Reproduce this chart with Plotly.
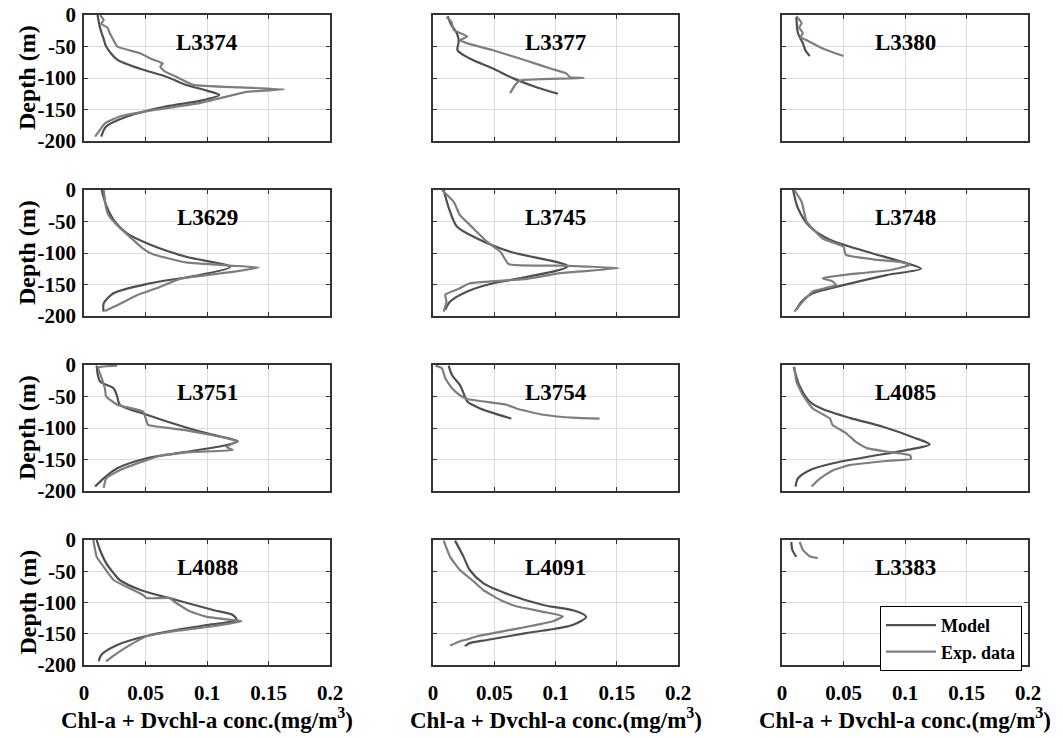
import plotly.graph_objects as go

# ---------------- data ----------------
stations = ["L3374", "L3377", "L3380", "L3629", "L3745", "L3748",
            "L3751", "L3754", "L4085", "L4088", "L4091", "L3383"]

L3374_model_conc = [0.011, 0.013, 0.016, 0.018, 0.027, 0.045, 0.067, 0.083, 0.100, 0.110, 0.095, 0.067, 0.035, 0.018, 0.014]
L3374_model_depth = [0, -20, -38, -50, -71, -85, -98, -111, -120, -127, -136, -145, -161, -177, -193]
L3374_exp_conc = [0.013, 0.016, 0.014, 0.019, 0.021, 0.024, 0.027, 0.046, 0.055, 0.064, 0.062, 0.066, 0.075, 0.089, 0.127, 0.163, 0.132, 0.111, 0.094, 0.056, 0.029, 0.017, 0.012, 0.009]
L3374_exp_depth = [0, -8, -14, -20, -29, -40, -50, -61, -70, -77, -82, -90, -98, -111, -115, -118, -122, -132, -140, -151, -161, -172, -185, -193]

L3377_model_conc = [0.012, 0.015, 0.0195, 0.021, 0.020, 0.030, 0.049, 0.066, 0.085, 0.102]
L3377_model_depth = [-2, -16, -29, -42, -56, -69, -85, -101, -115, -125]
L3377_exp_conc = [0.011, 0.015, 0.017, 0.028, 0.022, 0.028, 0.049, 0.074, 0.096, 0.109, 0.112, 0.123, 0.071, 0.067, 0.063]
L3377_exp_depth = [-3, -11, -24, -34, -40, -45, -56, -71, -85, -93, -99, -100, -104, -111, -124]

L3380_model_conc = [0.0117, 0.013, 0.017, 0.019, 0.0225]
L3380_model_depth = [-3, -29, -45, -56, -65]
L3380_exp_conc = [0.0117, 0.016, 0.014, 0.017, 0.015, 0.020, 0.033, 0.050]
L3380_exp_depth = [-2, -13, -20, -29, -35, -40, -53, -65]

L3629_model_conc = [0.0144, 0.018, 0.025, 0.035, 0.054, 0.083, 0.119, 0.094, 0.054, 0.024, 0.016, 0.016]
L3629_model_depth = [0, -24, -50, -69, -87, -106, -122, -135, -148, -164, -180, -193]
L3629_exp_conc = [0.016, 0.018, 0.020, 0.027, 0.037, 0.048, 0.056, 0.083, 0.119, 0.142, 0.121, 0.078, 0.059, 0.043, 0.027, 0.017]
L3629_exp_depth = [0, -29, -40, -56, -74, -93, -102, -115, -120, -123, -130, -141, -156, -167, -183, -192]

L3745_model_conc = [0.0087, 0.013, 0.0195, 0.036, 0.063, 0.110, 0.077, 0.049, 0.028, 0.014, 0.010]
L3745_model_depth = [0, -29, -58, -77, -98, -121, -138, -148, -161, -177, -190]
L3745_exp_conc = [0.0073, 0.017, 0.022, 0.033, 0.044, 0.055, 0.062, 0.104, 0.152, 0.104, 0.077, 0.030, 0.022, 0.010, 0.011, 0.0087]
L3745_exp_depth = [0, -19, -40, -61, -82, -98, -118, -120, -124, -132, -141, -148, -156, -166, -177, -193]

L3748_model_conc = [0.009, 0.013, 0.0225, 0.039, 0.069, 0.101, 0.113, 0.085, 0.050, 0.025, 0.016, 0.0117]
L3748_model_depth = [0, -29, -58, -79, -98, -116, -125, -135, -151, -164, -177, -190]
L3748_exp_conc = [0.010, 0.016, 0.020, 0.033, 0.050, 0.052, 0.074, 0.098, 0.104, 0.088, 0.050, 0.033, 0.041, 0.044, 0.025, 0.017, 0.010]
L3748_exp_depth = [0, -19, -50, -77, -90, -103, -110, -115, -119, -127, -135, -140, -145, -151, -161, -177, -193]

L3751_model_conc = [0.0103, 0.013, 0.024, 0.027, 0.029, 0.051, 0.081, 0.105, 0.125, 0.116, 0.083, 0.051, 0.027, 0.016, 0.009]
L3751_model_depth = [-1, -26, -37, -50, -63, -79, -98, -111, -121, -127, -138, -148, -164, -180, -193]
L3751_exp_conc = [0.027, 0.0117, 0.0144, 0.017, 0.018, 0.027, 0.048, 0.051, 0.052, 0.081, 0.116, 0.124, 0.116, 0.121, 0.089, 0.062, 0.048, 0.029, 0.018, 0.016]
L3751_exp_depth = [-1, -4, -21, -37, -50, -63, -74, -90, -95, -103, -116, -121, -130, -135, -138, -144, -153, -167, -180, -195]

L3754_model_conc = [0.0128, 0.0155, 0.022, 0.025, 0.028, 0.0385, 0.052, 0.064]
L3754_model_depth = [-1, -16, -32, -45, -58, -69, -78, -85]
L3754_exp_conc = [0.002, 0.0073, 0.010, 0.0155, 0.022, 0.028, 0.060, 0.068, 0.090, 0.117, 0.136]
L3754_exp_depth = [-1, -5, -21, -37, -48, -54, -63, -69, -79, -84, -85]

L4085_model_conc = [0.0095, 0.014, 0.0225, 0.033, 0.055, 0.082, 0.107, 0.120, 0.101, 0.069, 0.0415, 0.0225, 0.013, 0.011]
L4085_model_depth = [-3, -32, -58, -70, -84, -98, -115, -126, -135, -146, -156, -167, -180, -193]
L4085_exp_conc = [0.010, 0.0117, 0.017, 0.025, 0.039, 0.041, 0.052, 0.060, 0.069, 0.087, 0.104, 0.105, 0.087, 0.055, 0.0415, 0.031, 0.024]
L4085_exp_depth = [-3, -26, -48, -69, -85, -95, -108, -122, -132, -138, -143, -149, -152, -159, -167, -180, -193]

L4088_model_conc = [0.0103, 0.013, 0.018, 0.024, 0.029, 0.046, 0.075, 0.105, 0.121, 0.124, 0.100, 0.054, 0.027, 0.014, 0.012]
L4088_model_depth = [0, -16, -37, -53, -64, -80, -96, -112, -120, -128, -136, -152, -168, -184, -194]
L4088_exp_conc = [0.0076, 0.0103, 0.016, 0.024, 0.040, 0.048, 0.051, 0.070, 0.073, 0.086, 0.100, 0.121, 0.128, 0.105, 0.073, 0.051, 0.040, 0.027, 0.018]
L4088_exp_depth = [0, -27, -43, -64, -80, -88, -93, -93, -98, -114, -123, -128, -130, -138, -146, -154, -165, -181, -194]

L4091_model_conc = [0.018, 0.025, 0.030, 0.041, 0.063, 0.090, 0.117, 0.125, 0.114, 0.076, 0.044, 0.030, 0.026]
L4091_model_depth = [-1, -27, -48, -69, -88, -104, -114, -123, -136, -149, -160, -165, -170]
L4091_exp_conc = [0.0087, 0.014, 0.022, 0.033, 0.041, 0.055, 0.068, 0.093, 0.106, 0.098, 0.071, 0.036, 0.028, 0.022, 0.014]
L4091_exp_depth = [-1, -27, -48, -66, -80, -96, -106, -116, -122, -130, -141, -154, -159, -162, -169]

L3383_model_conc = [0.0076, 0.0084, 0.0117]
L3383_model_depth = [-3, -16, -27]
L3383_exp_conc = [0.0144, 0.017, 0.0225, 0.029]
L3383_exp_depth = [-3, -16, -26, -29]

x_tickvals = [0, 0.05, 0.1, 0.15, 0.2]
x_ticktext = ["0", "0.05", "0.1", "0.15", "0.2"]
y_tickvals = [0, -50, -100, -150, -200]
y_ticktext = ["0", "-50", "-100", "-150", "-200"]
x_title = "Chl-a + Dvchl-a conc.(mg/m<sup>3</sup>)"
y_title = "Depth (m)"

data = {
    "L3374": (L3374_model_conc, L3374_model_depth, L3374_exp_conc, L3374_exp_depth),
    "L3377": (L3377_model_conc, L3377_model_depth, L3377_exp_conc, L3377_exp_depth),
    "L3380": (L3380_model_conc, L3380_model_depth, L3380_exp_conc, L3380_exp_depth),
    "L3629": (L3629_model_conc, L3629_model_depth, L3629_exp_conc, L3629_exp_depth),
    "L3745": (L3745_model_conc, L3745_model_depth, L3745_exp_conc, L3745_exp_depth),
    "L3748": (L3748_model_conc, L3748_model_depth, L3748_exp_conc, L3748_exp_depth),
    "L3751": (L3751_model_conc, L3751_model_depth, L3751_exp_conc, L3751_exp_depth),
    "L3754": (L3754_model_conc, L3754_model_depth, L3754_exp_conc, L3754_exp_depth),
    "L4085": (L4085_model_conc, L4085_model_depth, L4085_exp_conc, L4085_exp_depth),
    "L4088": (L4088_model_conc, L4088_model_depth, L4088_exp_conc, L4088_exp_depth),
    "L4091": (L4091_model_conc, L4091_model_depth, L4091_exp_conc, L4091_exp_depth),
    "L3383": (L3383_model_conc, L3383_model_depth, L3383_exp_conc, L3383_exp_depth),
}

# ---------------- layout geometry ----------------
W, H = 1063, 738
col_px = [(84, 330), (433, 678), (782, 1028)]
row_px = [(15, 141), (190, 316), (365, 491), (540, 665)]

FONT = "Liberation Serif"
MODEL_COLOR = "#4f4f4f"
EXP_COLOR = "#7e7e7e"
FRAME = "#333333"
GRID = "#dcdcdc"

fig = go.Figure()
layout = dict(
    width=W, height=H,
    margin=dict(l=0, r=0, t=0, b=0, autoexpand=False),
    paper_bgcolor="white", plot_bgcolor="white",
    font=dict(family=FONT, size=20, color="black", weight="bold"),
    showlegend=True,
    legend=dict(x=1022 / W, y=1 - 606 / H, xanchor="right", yanchor="top",
                bgcolor="white", bordercolor="black", borderwidth=1,
                font=dict(family=FONT, size=18, weight="bold", color="black"),
                tracegroupgap=0, itemwidth=50),
)
annotations = []

for i, st in enumerate(stations):
    r, c = divmod(i, 3)
    idx = "" if i == 0 else str(i + 1)
    xa, ya = "x" + idx, "y" + idx
    mc, md, ec, ed = data[st]
    fig.add_trace(go.Scatter(x=mc, y=md, mode="lines", xaxis=xa, yaxis=ya,
                             line=dict(color=MODEL_COLOR, width=2.2, shape="spline", smoothing=0.8),
                             name="Model", legendgroup="m", showlegend=(i == 0)))
    fig.add_trace(go.Scatter(x=ec, y=ed, mode="lines", xaxis=xa, yaxis=ya,
                             line=dict(color=EXP_COLOR, width=2.2, shape="spline", smoothing=0.4),
                             name="Exp. data", legendgroup="e", showlegend=(i == 0)))
    x0, x1 = col_px[c]
    y0, y1 = row_px[r]
    common = dict(ticks="inside", ticklen=4, tickcolor=FRAME,
                  showline=True, linecolor=FRAME, linewidth=1.6, mirror="ticks",
                  showgrid=True, gridcolor=GRID, gridwidth=1, zeroline=False,
                  automargin=False,
                  tickfont=dict(family=FONT, size=21, weight="bold", color="black"))
    layout["xaxis" + idx] = dict(domain=[x0 / W, x1 / W], anchor=ya, range=[0, 0.2],
                                 tickvals=x_tickvals, ticktext=x_ticktext,
                                 showticklabels=(r == 3), ticklabelstandoff=8, **common)
    layout["yaxis" + idx] = dict(domain=[1 - y1 / H, 1 - y0 / H], anchor=xa, range=[-200, 0],
                                 tickvals=y_tickvals, ticktext=y_ticktext,
                                 showticklabels=(c == 0), ticklabelstandoff=2, **common)
    annotations.append(dict(text=st, xref=xa + " domain", yref=ya + " domain",
                            x=0.5, y=1 - 27.5 / 126, xanchor="center", yanchor="middle",
                            showarrow=False,
                            font=dict(family=FONT, size=23, weight="bold", color="black")))
    if r == 3:
        annotations.append(dict(text=x_title, xref="paper", yref="paper",
                                x=(x0 + x1) / 2 / W, y=1 - 718 / H,
                                xanchor="center", yanchor="middle", showarrow=False,
                                font=dict(family=FONT, size=23, weight="bold", color="black")))
    if c == 0:
        annotations.append(dict(text=y_title, xref="paper", yref="paper",
                                x=27 / W, y=1 - (y0 + y1) / 2 / H, textangle=-90,
                                xanchor="center", yanchor="middle", showarrow=False,
                                font=dict(family=FONT, size=24, weight="bold", color="black")))

layout["annotations"] = annotations
fig.update_layout(**layout)
fig.write_html("out.html", config={"displayModeBar": False},
               post_script="document.body.style.margin='0';document.body.style.overflow='hidden';")
